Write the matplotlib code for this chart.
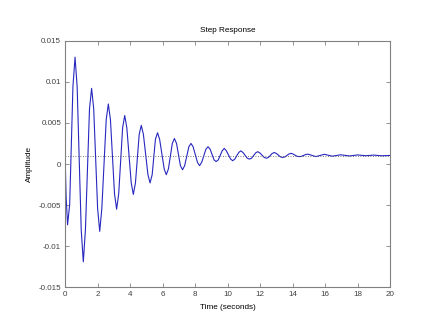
import matplotlib
matplotlib.use("Agg")
import matplotlib.pyplot as plt

# Step response samples (time in s, amplitude)
time_s = [0.00, 0.05, 0.14, 0.27,
          0.47, 0.60, 0.73,
          0.98, 1.11, 1.24,
          1.49, 1.62, 1.75,
          1.99, 2.12, 2.25,
          2.52, 2.65, 2.78,
          3.03, 3.16, 3.29,
          3.53, 3.66, 3.79,
          4.06, 4.19, 4.32,
          4.55, 4.68, 4.81,
          5.09, 5.22, 5.35,
          5.55, 5.68, 5.81,
          6.09, 6.22, 6.35,
          6.59, 6.72, 6.85,
          7.09, 7.22, 7.35,
          7.61, 7.74, 7.87,
          8.14, 8.27, 8.40,
          8.66, 8.79, 8.92,
          9.16, 9.29, 9.42,
          9.66, 9.79, 9.92,
          10.18, 10.31, 10.44,
          10.68, 10.81, 10.94,
          11.21, 11.34, 11.47,
          11.72, 11.85, 11.98,
          12.25, 12.38, 12.51,
          12.74, 12.87, 13.00,
          13.26, 13.39, 13.52,
          13.77, 13.90, 14.03,
          14.28, 14.41, 14.54,
          14.79, 14.92, 15.05,
          15.43, 15.95, 16.45, 16.95,
          17.50, 18.00, 18.50, 19.00, 19.50, 20.00]
amplitude = [0.0000, -0.0040, -0.0074, -0.0049,
             0.0094, 0.0130, 0.0094,
             -0.0080, -0.0119, -0.0080,
             0.0067, 0.0092, 0.0067,
             -0.0054, -0.0082, -0.0054,
             0.0054, 0.0073, 0.0054,
             -0.0036, -0.0055, -0.0036,
             0.0044, 0.0059, 0.0044,
             -0.0023, -0.0037, -0.0023,
             0.0036, 0.0047, 0.0036,
             -0.0013, -0.0023, -0.0013,
             0.0030, 0.0038, 0.0030,
             -0.0006, -0.0013, -0.0006,
             0.0025, 0.0031, 0.0025,
             -0.0002, -0.0007, -0.0002,
             0.0021, 0.0025, 0.0021,
             0.0002, -0.0002, 0.0002,
             0.0018, 0.0021, 0.0018,
             0.0005, 0.0003, 0.0005,
             0.0016, 0.0019, 0.0016,
             0.0006, 0.0004, 0.0006,
             0.0014, 0.0016, 0.0014,
             0.0007, 0.0006, 0.0007,
             0.00135, 0.0015, 0.00135,
             0.0008, 0.0007, 0.0008,
             0.00128, 0.0014, 0.00128,
             0.00086, 0.0008, 0.00086,
             0.00121, 0.0013, 0.00121,
             0.00093, 0.0009, 0.00093,
             0.00114, 0.0012, 0.00114,
             0.0009, 0.00118, 0.00095, 0.00112,
             0.00098, 0.00110, 0.00101, 0.00108, 0.00100, 0.00104]
final_value = 0.001

x_ticks = [0, 2, 4, 6, 8, 10, 12, 14, 16, 18, 20]
y_ticks = [-0.015, -0.01, -0.005, 0, 0.005, 0.01, 0.015]
y_tick_labels = ["-0.015", "-0.01", "-0.005", "0", "0.005", "0.01", "0.015"]

plt.rcParams['font.family'] = ['Liberation Sans', 'DejaVu Sans']

fig = plt.figure(figsize=(4.31, 3.23), dpi=100)
ax = fig.add_axes([0.1515, 0.1105, 0.7535, 0.7635])

ax.plot(time_s, amplitude, color='#2828c0', lw=0.8)
ax.plot([0, 20], [final_value, final_value], linestyle=(0, (1, 2)),
        color='#505050', lw=0.6)

ax.set_xlim(0, 20)
ax.set_ylim(-0.015, 0.015)
ax.set_xticks(x_ticks)
ax.set_xticklabels([str(v) for v in x_ticks])
ax.set_yticks(y_ticks)
ax.set_yticklabels(y_tick_labels)

for s in ax.spines.values():
    s.set_color('#808080')
    s.set_linewidth(0.8)
ax.tick_params(direction='in', length=3, width=0.6, colors='#808080',
               labelcolor='#404040', labelsize=5.8, top=True, right=True, pad=3)

ax.set_title('Step Response', fontsize=5.9, color='black', pad=6)
ax.set_xlabel('Time (seconds)', fontsize=5.9, color='black', labelpad=4)
ax.set_ylabel('Amplitude', fontsize=5.9, color='black', labelpad=4)

fig.savefig('out.png', dpi=100)
